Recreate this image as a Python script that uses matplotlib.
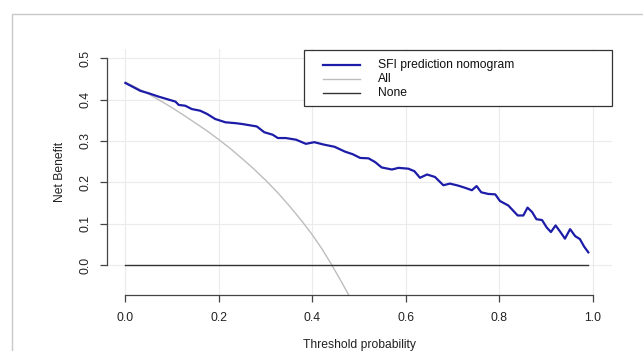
import matplotlib.pyplot as plt
from matplotlib.patches import Rectangle

# decision curve readings
thresh_model = [0.0, 0.032, 0.05, 0.071, 0.089, 0.107, 0.114, 0.128, 0.142, 0.16,
                0.175, 0.192, 0.214, 0.235, 0.249, 0.281, 0.297, 0.315, 0.326, 0.343,
                0.365, 0.386, 0.404, 0.425, 0.447, 0.47, 0.486, 0.502, 0.52, 0.534,
                0.548, 0.57, 0.584, 0.605, 0.618, 0.63, 0.645, 0.662, 0.68, 0.694,
                0.712, 0.726, 0.741, 0.751, 0.761, 0.776, 0.791, 0.801, 0.819, 0.839,
                0.851, 0.86, 0.87, 0.879, 0.891, 0.901, 0.91, 0.92, 0.931, 0.94,
                0.951, 0.962, 0.972, 0.981, 0.99]
nb_model = [0.44, 0.421, 0.415, 0.407, 0.401, 0.395, 0.387, 0.385, 0.377, 0.373,
            0.365, 0.353, 0.345, 0.343, 0.341, 0.335, 0.321, 0.315, 0.307, 0.307,
            0.303, 0.293, 0.297, 0.291, 0.286, 0.274, 0.268, 0.259, 0.258, 0.249,
            0.236, 0.231, 0.235, 0.233, 0.227, 0.211, 0.219, 0.213, 0.193, 0.197,
            0.192, 0.187, 0.181, 0.191, 0.176, 0.172, 0.171, 0.155, 0.144, 0.12,
            0.12, 0.139, 0.128, 0.111, 0.109, 0.091, 0.08, 0.096, 0.079, 0.064,
            0.087, 0.07, 0.063, 0.045, 0.031]

thresh_all = [0.0, 0.025, 0.05, 0.075, 0.1, 0.125, 0.15, 0.175, 0.2, 0.225, 0.25,
              0.275, 0.3, 0.325, 0.35, 0.375, 0.4, 0.42, 0.44, 0.46, 0.48, 0.5]
nb_all = [0.442, 0.428, 0.413, 0.397, 0.380, 0.362, 0.343, 0.324, 0.303, 0.281, 0.257,
          0.232, 0.205, 0.176, 0.144, 0.110, 0.073, 0.040, 0.003, -0.036, -0.077, -0.12]

thresh_none = [0.0, 0.99]
nb_none = [0.0, 0.0]

labels = ['SFI prediction nomogram', 'All', 'None']
colors = ['#1c1ca8', '#bdbdbd', '#333333']
widths = [1.6, 1.0, 1.0]

xticks = [0.0, 0.2, 0.4, 0.6, 0.8, 1.0]
yticks = [0.0, 0.1, 0.2, 0.3, 0.4, 0.5]

plt.rcParams['font.family'] = ['Liberation Sans', 'DejaVu Sans']

fig = plt.figure(figsize=(6.43, 3.51), dpi=100)
# light frame around the whole plot
fig.patches.append(Rectangle((12 / 643, -0.1), 1.2, 1 - 14 / 351 + 0.1,
                             transform=fig.transFigure, fill=False,
                             edgecolor='#c8c8c8', linewidth=1.0))

ax = fig.add_axes([106.7 / 643, 1 - 295 / 351, 505 / 643, 246 / 351])
ax.set_xlim(-0.04, 1.04)
ax.set_ylim(-0.072, 0.522)

for x in xticks:
    ax.axvline(x, color='#ebebeb', linewidth=0.8, zorder=0)
for y in yticks:
    ax.axhline(y, color='#ebebeb', linewidth=0.8, zorder=0)

series = [(thresh_model, nb_model), (thresh_all, nb_all), (thresh_none, nb_none)]
z = [3, 2, 2]
for (xs, ys), c, w, zz in zip(series, colors, widths, z):
    ax.plot(xs, ys, color=c, linewidth=w, zorder=zz)

for side in ['top', 'right']:
    ax.spines[side].set_visible(False)
ax.spines['left'].set_bounds(0, 0.5)
ax.spines['bottom'].set_bounds(0, 1)
for side in ['left', 'bottom']:
    ax.spines[side].set_color('#444444')
    ax.spines[side].set_linewidth(0.9)

ax.set_xticks(xticks)
ax.set_yticks(yticks)
ax.set_xticklabels([f'{v:.1f}' for v in xticks])
ax.set_yticklabels([f'{v:.1f}' for v in yticks], rotation=90, va='center')
ax.tick_params(axis='x', length=5, width=0.9, color='#444444', labelsize=8.7,
               labelcolor='#222222', pad=7.5)
ax.tick_params(axis='y', length=5, width=0.9, color='#444444', labelsize=8.7,
               labelcolor='#222222', pad=6)

ax.set_xlabel('Threshold probability', fontsize=8.7, color='#222222', labelpad=10.5)
ax.set_ylabel('Net Benefit', fontsize=8.7, color='#222222', labelpad=10)

# legend box, laid out like R's legend("topright")
ax.add_patch(Rectangle((0.391, 0.7695), 0.609, 0.2275, transform=ax.transAxes,
                       facecolor='white', edgecolor='#333333', linewidth=0.9,
                       zorder=5, clip_on=False))
rows = [0.935, 0.880, 0.823]
for lab, c, w, ry in zip(labels, colors, widths, rows):
    ax.plot([0.4277, 0.5016], [ry, ry], transform=ax.transAxes, color=c,
            linewidth=w, zorder=6, clip_on=False)
    ax.text(0.5372, ry, lab, transform=ax.transAxes, fontsize=8.7, color='#111111',
            va='center', ha='left', zorder=6)

fig.savefig('out.png', dpi=100)
